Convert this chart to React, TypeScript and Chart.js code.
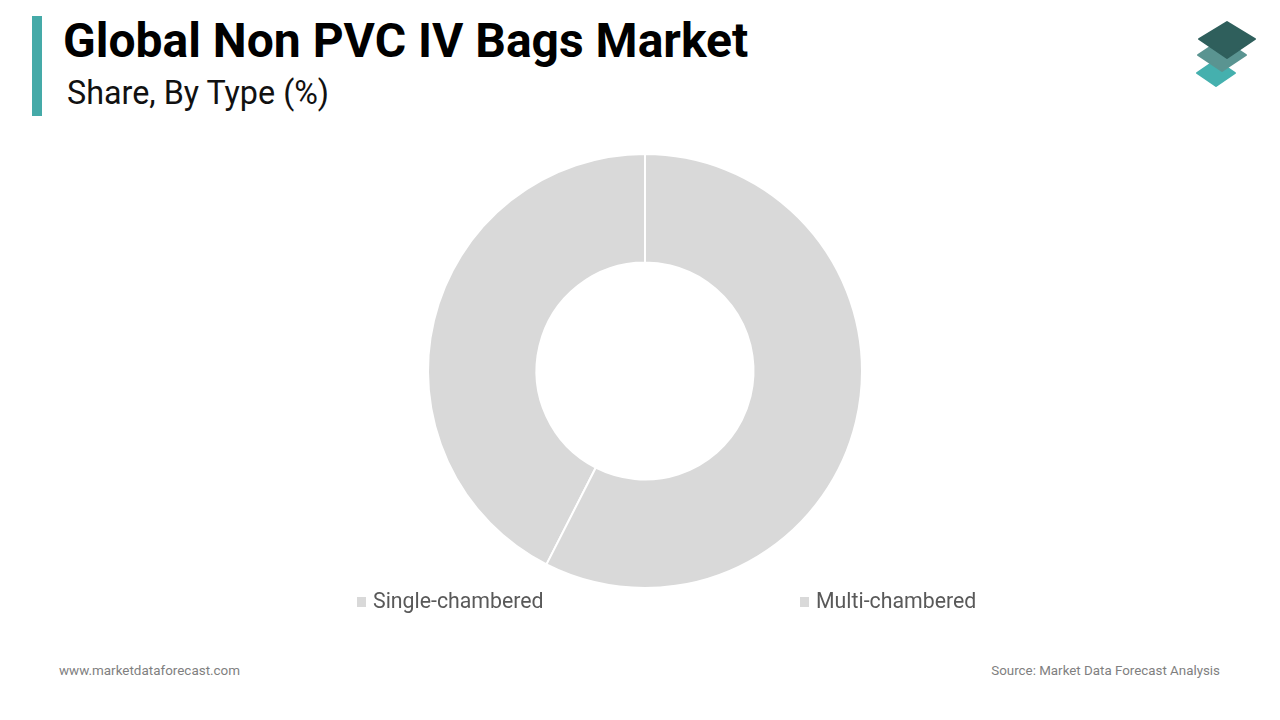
import React, { useEffect, useRef } from "react";
import { Chart, registerables } from "chart.js";

Chart.register(...registerables);

const categories = ["Single-chambered", "Multi-chambered"];
const shares = [42.5, 57.5];
const sliceColors = ["#d9d9d9", "#d9d9d9"];
const legendLefts = [357, 800];

const text = (left: number, top: number, size: number, color: string, weight = 400): React.CSSProperties => ({
  position: "absolute",
  left,
  top,
  fontFamily: "Roboto, sans-serif",
  fontSize: size,
  lineHeight: `${Math.round(size * 1.2)}px`,
  color,
  fontWeight: weight,
  whiteSpace: "nowrap",
});

export default function App() {
  const ref = useRef<HTMLCanvasElement>(null);
  useEffect(() => {
    const chart = new Chart(ref.current!, {
      type: "doughnut",
      data: {
        labels: categories,
        datasets: [
          {
            data: shares,
            backgroundColor: sliceColors,
            borderColor: "#ffffff",
            borderWidth: 2,
          },
        ],
      },
      options: {
        animation: false,
        responsive: false,
        rotation: (shares[1] / 100) * 360,
        radius: 217,
        cutout: "50%",
        plugins: { legend: { display: false }, tooltip: { enabled: false } },
      },
    });
    return () => chart.destroy();
  }, []);

  return (
    <div style={{ position: "absolute", left: 0, top: 0, width: 1280, height: 720, background: "#fff", overflow: "hidden" }}>
      <div style={{ position: "absolute", left: 32, top: 16, width: 10, height: 100, background: "#45aaa8" }} />
      <div style={text(63, 12, 48, "#000", 700)}>Global Non PVC IV Bags Market</div>
      <div style={text(67, 74, 32.3, "#111")}>Share, By Type (%)</div>
      <svg style={{ position: "absolute", left: 1190, top: 15 }} width={75} height={78} viewBox="0 0 75 78">
        <g strokeLinejoin="round" strokeWidth={2}>
          <polygon points="7,58 26,45 45,58 26,71" fill="#45b0ae" stroke="#45b0ae" />
          <polygon points="8,40 32,24 56,40 32,56" fill="#5a9491" stroke="#5a9491" />
          <polygon points="9,24 37,7 65,24 37,43" fill="#2f5f5c" stroke="#2f5f5c" />
        </g>
      </svg>
      <canvas ref={ref} width={500} height={500} style={{ position: "absolute", left: 395, top: 121 }} />
      {categories.map((c, i) => (
        <React.Fragment key={c}>
          <div style={{ position: "absolute", left: legendLefts[i], top: 597, width: 9, height: 10, background: sliceColors[i] }} />
          <div style={text(legendLefts[i] + 16, 588, 21.3, "#595959")}>{c}</div>
        </React.Fragment>
      ))}
      <div style={text(59, 663, 13.45, "#7f7f7f")}>www.marketdataforecast.com</div>
      <div style={{ ...text(0, 663, 13.35, "#7f7f7f"), left: "auto", right: 60 }}>Source: Market Data Forecast Analysis</div>
    </div>
  );
}
